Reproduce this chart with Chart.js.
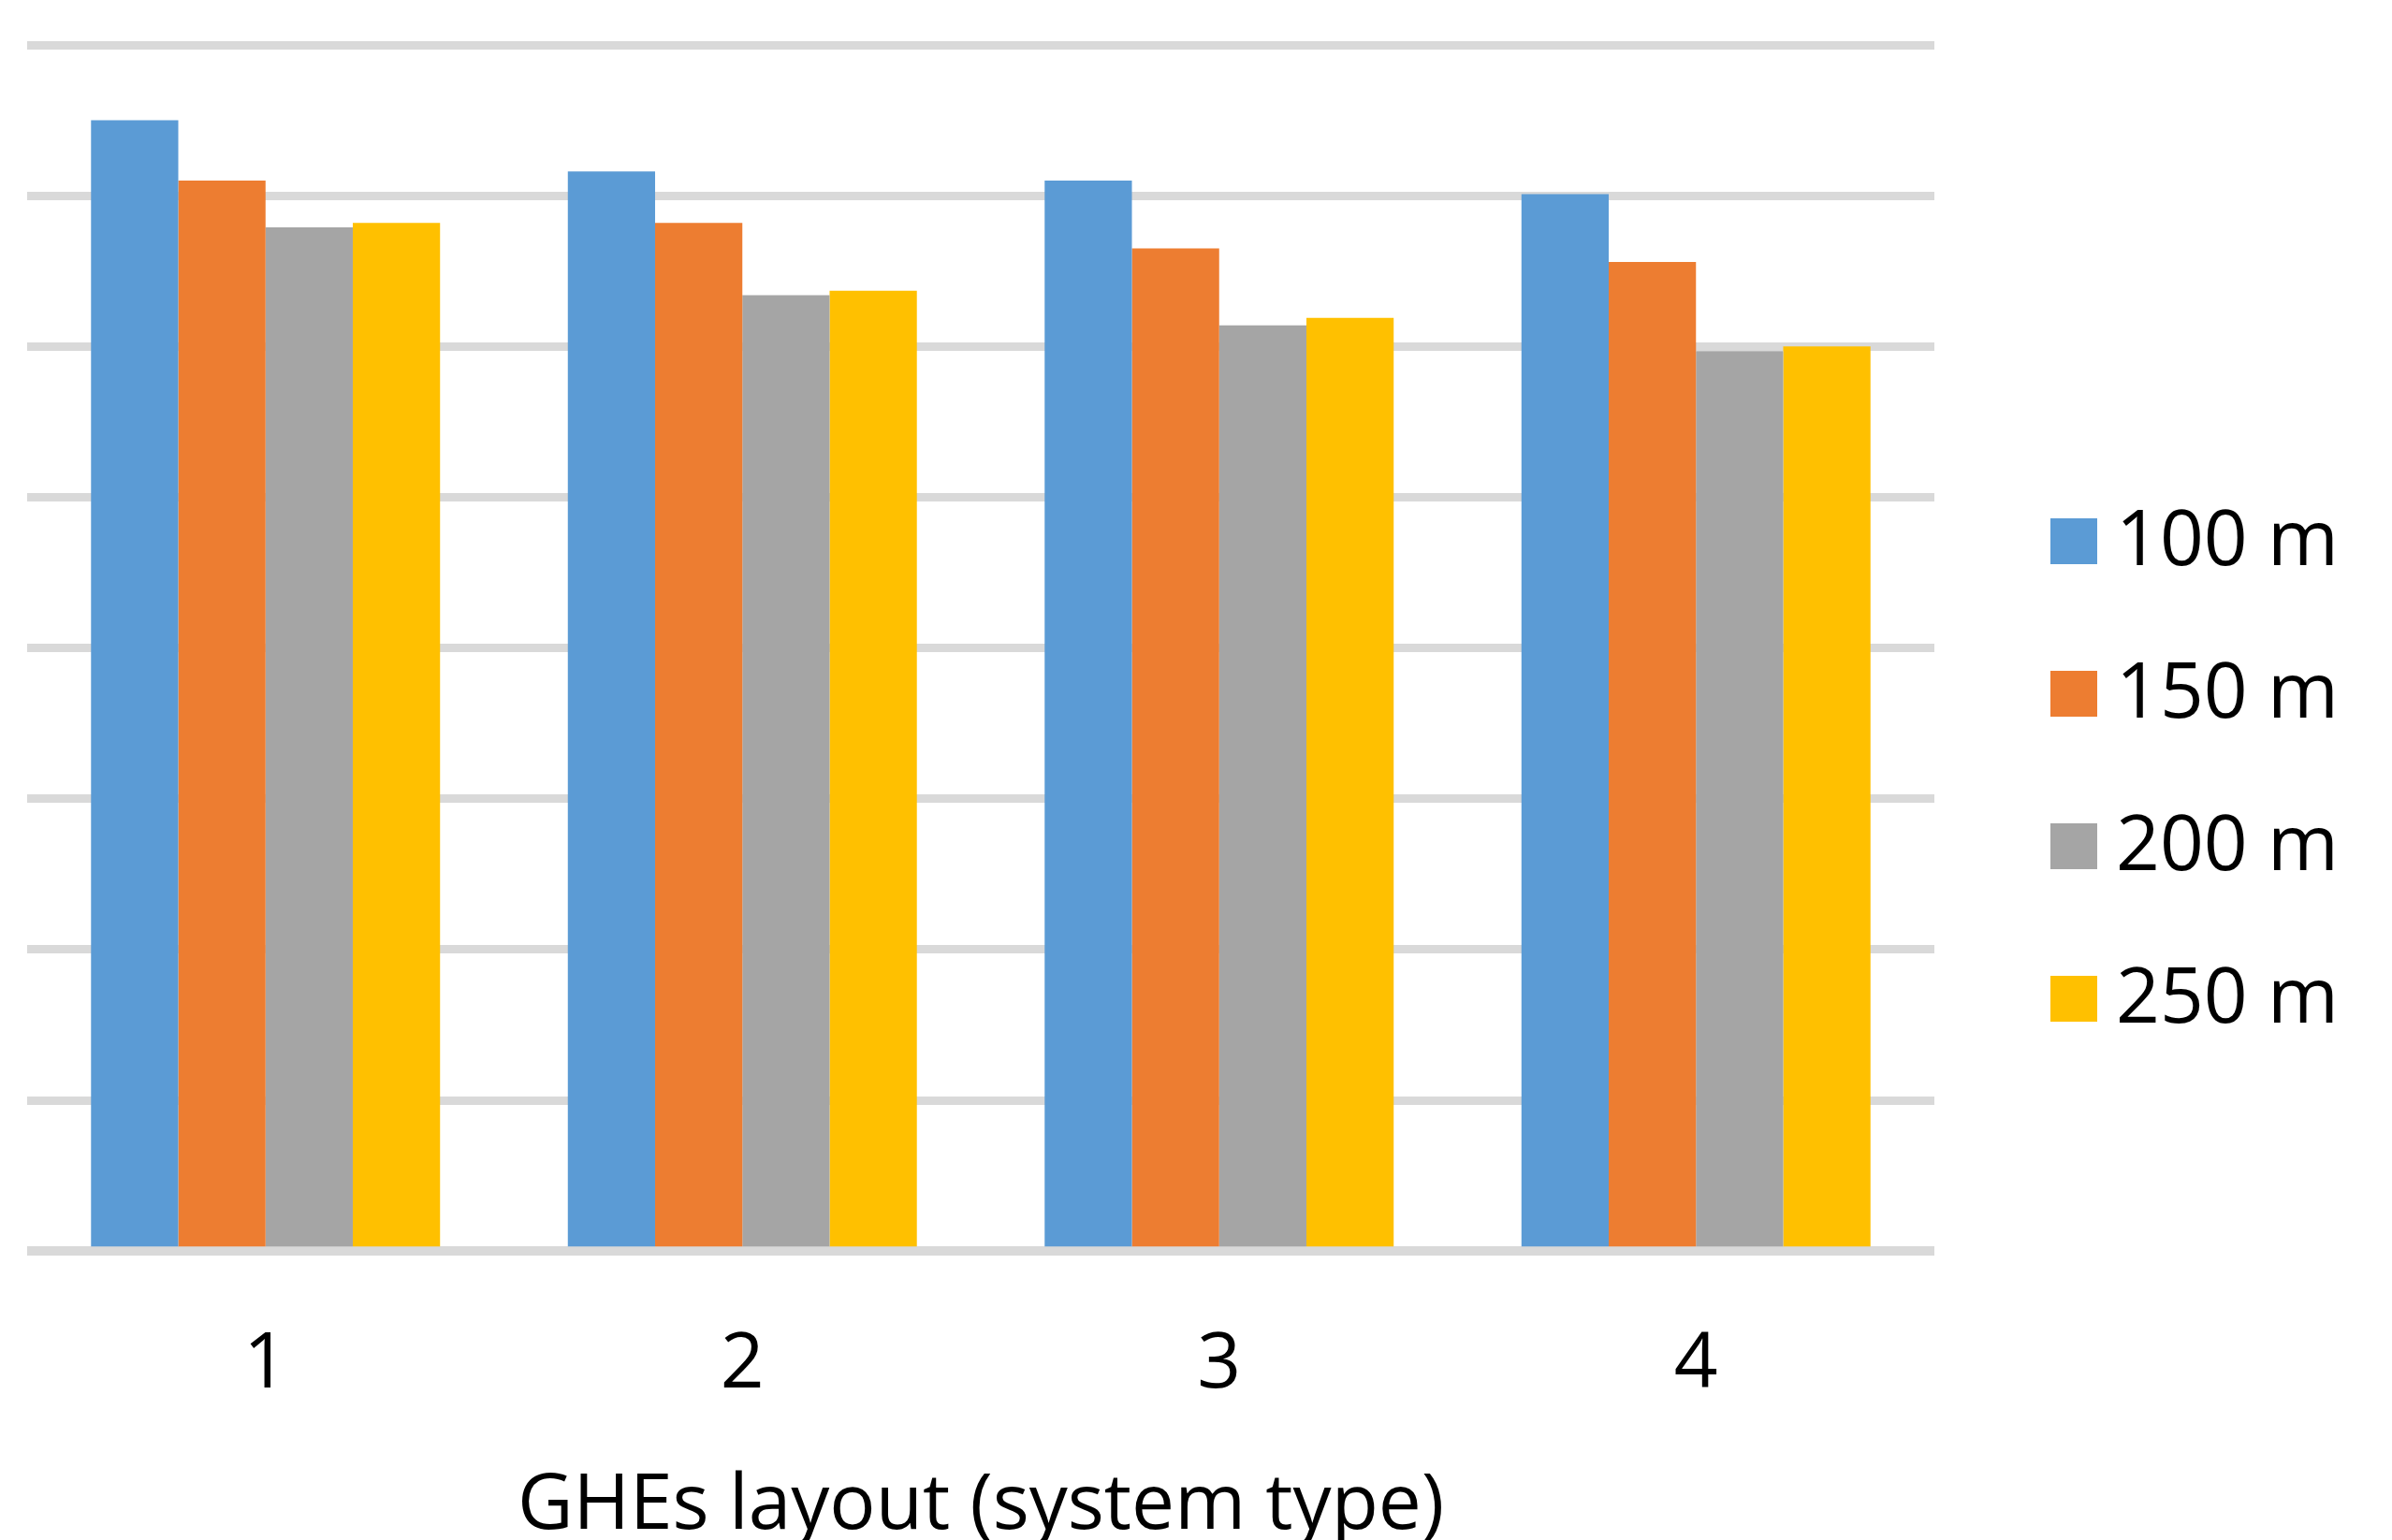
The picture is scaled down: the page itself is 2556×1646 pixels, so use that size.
<!DOCTYPE html>
<html>
<head>
<meta charset="utf-8">
<script src="https://cdn.jsdelivr.net/npm/chart.js@4"></script>
<style>
  html, body { margin: 0; padding: 0; background: #ffffff; }
  #wrap { width: 2556px; height: 1646px; }
</style>
</head>
<body>
<div id="wrap"><canvas id="c" width="2556" height="1646"></canvas></div>
<script>
// Categories (GHEs layout / system type)
const categories = ['1', '2', '3', '4'];
// Series labels
const seriesLabels = ['100 m', '150 m', '200 m', '250 m'];
// Series values (in gridline units; axis has no numeric labels)
const values100 = [7.50, 7.16, 7.10, 7.01];
const values150 = [7.10, 6.82, 6.65, 6.56];
const values200 = [6.79, 6.34, 6.14, 5.97];
const values250 = [6.82, 6.37, 6.19, 6.00];
// Y scale (hidden tick labels)
const yMin = 0, yMax = 8, yStep = 1;
const xTitle = 'GHEs layout (system type)';

const colors = ['#5B9BD5', '#ED7D31', '#A5A5A5', '#FFC000'];
const seriesValues = [values100, values150, values200, values250];
const FONT = '"Open Sans", "Liberation Sans", sans-serif';

const legendPlugin = {
  id: 'sideLegend',
  afterDraw(chart) {
    const ctx = chart.ctx;
    const area = chart.chartArea;
    const boxLeft = area.right + 124;
    const boxW = 50, boxH = 49, spacing = 163;
    const midY = chart.height / 2;
    ctx.save();
    ctx.font = '82px ' + FONT;
    ctx.textBaseline = 'middle';
    ctx.textAlign = 'left';
    chart.data.datasets.forEach((ds, i) => {
      const cy = midY + (i - (chart.data.datasets.length - 1) / 2) * spacing;
      ctx.fillStyle = ds.backgroundColor;
      ctx.fillRect(boxLeft, cy - boxH / 2, boxW, boxH);
      ctx.fillStyle = '#000000';
      ctx.fillText(ds.label, boxLeft + boxW + 20, cy + 2);
    });
    ctx.restore();
  }
};

new Chart(document.getElementById('c'), {
  type: 'bar',
  data: {
    labels: categories,
    datasets: seriesLabels.map((lab, i) => ({
      label: lab,
      data: seriesValues[i],
      backgroundColor: colors[i],
      borderWidth: 0,
      categoryPercentage: 0.732,
      barPercentage: 1.0
    }))
  },
  options: {
    responsive: false,
    animation: false,
    devicePixelRatio: 1,
    layout: { padding: { left: 29, right: 489, top: 48, bottom: 0 } },
    plugins: {
      legend: { display: false },
      tooltip: { enabled: false },
      title: { display: false }
    },
    scales: {
      y: {
        min: yMin, max: yMax,
        ticks: { display: false, stepSize: yStep },
        grid: {
          color: '#D9D9D9',
          lineWidth: (c) => (c.tick && c.tick.value === 0 ? 10 : 9),
          drawTicks: false
        },
        border: { display: false }
      },
      x: {
        grid: { display: false, drawTicks: false },
        border: { display: false },
        ticks: {
          color: '#000000',
          padding: 73,
          font: { family: FONT, size: 82, lineHeight: 1.2 }
        },
        title: {
          display: true,
          text: xTitle,
          color: '#000000',
          font: { family: FONT, size: 82, lineHeight: 0.7 },
          padding: { top: 0, bottom: 7 }
        }
      }
    }
  },
  plugins: [legendPlugin]
});
</script>
</body>
</html>
